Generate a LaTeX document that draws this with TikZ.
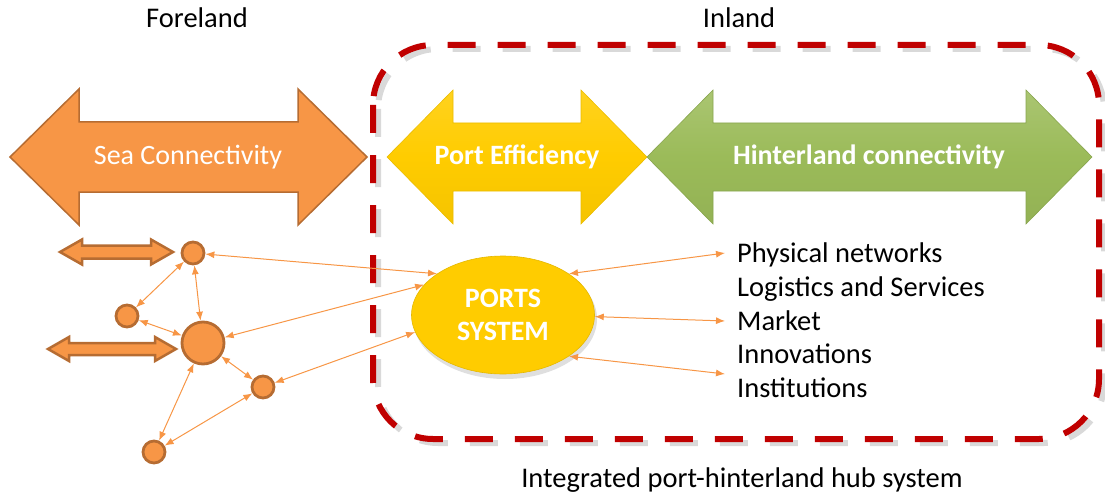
\documentclass[tikz,border=0pt]{standalone}
\usepackage{fontspec}
\setmainfont{Carlito}
\usetikzlibrary{arrows.meta,shapes.geometric}
\definecolor{seaor}{RGB}{247,150,70}
\definecolor{seaedge}{RGB}{182,108,50}
\definecolor{portyel}{RGB}{255,204,0}
\definecolor{hintgrn}{RGB}{155,187,89}
\definecolor{boxred}{RGB}{192,0,0}
\begin{document}
\begin{tikzpicture}[x=1pt,y=-1pt,
  seaarrow/.style={fill=seaor,draw=seaedge,line width=1.5pt,line join=miter},
  portarrow/.style={top color=portyel!88!white,bottom color=portyel!96!black,middle color=portyel,draw=portyel!92!black,line width=0.6pt},
  hintarrow/.style={top color=hintgrn!85!white,bottom color=hintgrn!95!black,middle color=hintgrn,draw=hintgrn!88!black,line width=0.6pt},
  smallarrow/.style={fill=seaor,draw=seaedge,line width=2.5pt,line join=miter},
  bandtext/.style={text=white,font=\fontsize{28}{32}\selectfont},
  hub/.style={circle,fill=seaor,draw=seaedge,line width=2.8pt,minimum size=22,inner sep=0pt},
  link/.style={draw=seaor,line width=1pt,{Latex[length=9pt,width=7pt]}-{Latex[length=9pt,width=7pt]}},
  label/.style={font=\fontsize{28.5}{32}\selectfont,anchor=base},
  item/.style={font=\fontsize{28.5}{32}\selectfont,anchor=base west,inner sep=0pt}]
\useasboundingbox (0,0) rectangle (1105,492);
\def\dar#1#2#3#4#5#6#7{
\draw[#7] (#1,#3) -- (#1+#4,#3-#5) -- (#1+#4,#3-#6) -- (#2-#4,#3-#6) -- (#2-#4,#3-#5)
  -- (#2,#3) -- (#2-#4,#3+#5) -- (#2-#4,#3+#6) -- (#1+#4,#3+#6) -- (#1+#4,#3+#5) -- cycle;
}
\draw[gray,opacity=0.3,line width=6pt,dash pattern=on 28pt off 22pt,rounded corners=60pt]
  (378,49) rectangle (1104,443);
\draw[boxred,line width=6pt,dash pattern=on 28pt off 22pt,rounded corners=60pt]
  (373,45) rectangle (1099,439);
\dar{10}{367}{157}{69}{68}{35}{seaarrow}
\dar{387}{647}{157}{66}{67}{34}{portarrow}
\dar{647}{1092}{157}{66}{67}{34}{hintarrow}
\dar{60}{173}{252}{22}{12.5}{6.5}{smallarrow}
\dar{48}{176}{349}{21}{12}{6}{smallarrow}
\node[bandtext] (sea) at (188,157) {Sea Connectivity};
\node[bandtext,font=\fontsize{28}{32}\selectfont\bfseries] (eff) at (517,157) {Port Efficiency};
\node[bandtext,font=\fontsize{28}{32}\selectfont\bfseries] (hint) at (869,157) {Hinterland connectivity};
\node[label] (fore) at (197,28) {Foreland};
\node[label] (inl) at (739,28) {Inland};
\node[label] (hub) at (742,487) {Integrated port-hinterland hub system};
\fill[gray,opacity=0.25] (505,319) ellipse (92 and 60);
\node[ellipse,minimum width=183,minimum height=118,fill=portyel,draw=portyel!90!black,line width=0.6pt,
  text=white,align=center,font=\fontsize{28}{33}\selectfont\bfseries] (ports) at (503,315) {PORTS\\SYSTEM};
\node[hub] (n1) at (193,253) {};
\node[hub] (n2) at (127,316) {};
\node[hub,minimum size=42] (n3) at (203,343) {};
\node[hub] (n4) at (263,387) {};
\node[hub] (n5) at (154,452) {};
\node[item] (phys) at (737,262) {Physical networks};
\node[item] (logi) at (737,296) {Logistics and Services};
\node[item] (mark) at (737,330) {Market};
\node[item] (inno) at (737,363) {Innovations};
\node[item] (inst) at (737,397) {Institutions};
\coordinate (e1) at (725,253);
\coordinate (e2) at (725,321);
\coordinate (e3) at (725,374);
\draw[link] (n1) -- (n2);
\draw[link] (n1) -- (n3);
\draw[link] (n2) -- (n3);
\draw[link] (n3) -- (n4);
\draw[link] (n3) -- (n5);
\draw[link] (n4) -- (n5);
\draw[link] (n1) -- (ports.148);
\draw[link] (n3) -- (ports.159);
\draw[link] (n4) -- (ports.191);
\draw[link] (ports.32) -- (e1);
\draw[link] (ports.-1) -- (e2);
\draw[link] (ports.-32) -- (e3);
\end{tikzpicture}
\end{document}
